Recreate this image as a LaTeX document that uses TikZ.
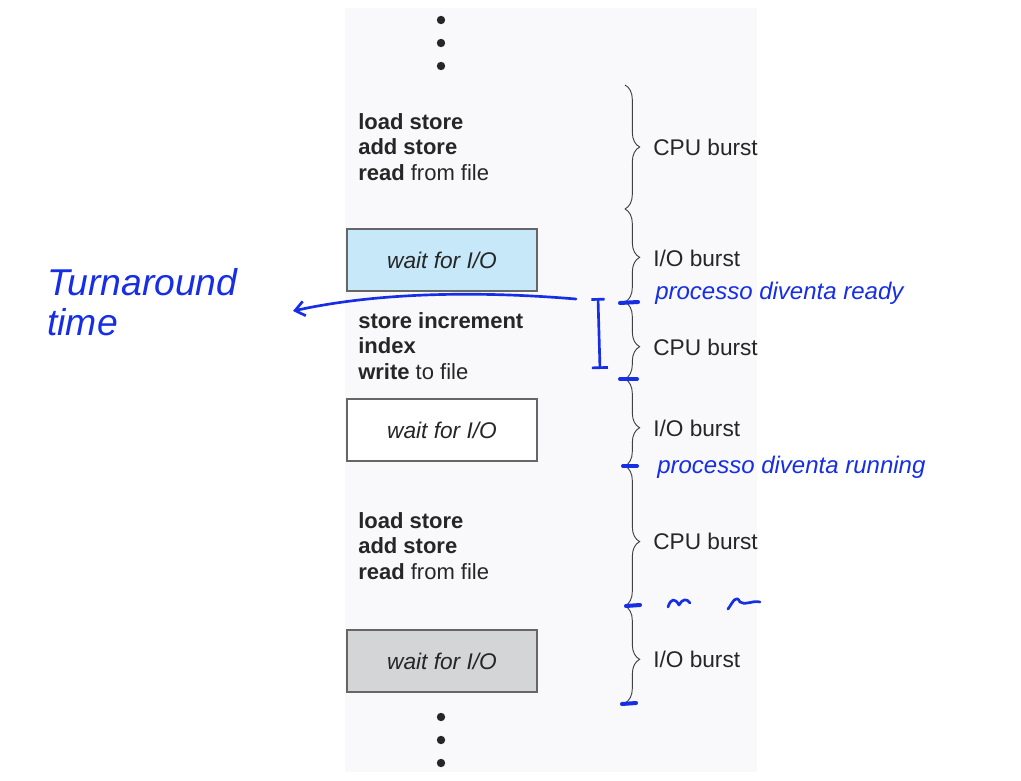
\documentclass[tikz,border=0pt]{standalone}
\usepackage{fontspec}
\setmainfont{Liberation Sans}
\newfontfamily\handfont{Liberation Sans}
\usetikzlibrary{positioning,decorations.pathreplacing,arrows.meta}

\definecolor{panelgray}{RGB}{249,249,251}
\definecolor{iofill}{RGB}{198,232,248}
\definecolor{waitgray}{RGB}{211,213,214}
\definecolor{inkblue}{RGB}{22,46,230}
\definecolor{textgray}{RGB}{38,38,38}

\begin{document}
\begin{tikzpicture}[x=0.75pt,y=-0.75pt]
\tikzset{
    code/.style={anchor=west, align=left, inner sep=0pt, text=textgray, font=\fontsize{16.5}{19}\selectfont},
    waitbox/.style={rectangle, draw=black!60, line width=1.1pt, minimum width=142.5pt, minimum height=46.5pt, text=textgray, font=\fontsize{17}{20}\selectfont\itshape},
    burst/.style={anchor=west, inner sep=0pt, text=textgray, font=\fontsize{17}{20}\selectfont},
    brace/.style={decorate, decoration={brace, amplitude=11pt}, draw=black!75, line width=0.7pt},
    dot/.style={circle, fill=black!85, inner sep=0pt, minimum size=6.3pt},
    ink/.style={draw=inkblue, line width=2pt, line cap=round, line join=round},
    tick/.style={ink, line width=3pt},
    note/.style={anchor=west, inner sep=0pt, text=inkblue, font=\handfont\itshape\fontsize{18}{20}\selectfont}
}
\useasboundingbox (0,0) rectangle (1021,781);

% pannello di sfondo
\fill[panelgray] (345,8) rectangle (757,772);

% puntini
\node[dot] (dt1) at (441,20) {};
\node[dot] (dt2) at (441,43) {};
\node[dot] (dt3) at (441,66) {};
\node[dot] (db1) at (441,717) {};
\node[dot] (db2) at (441,740) {};
\node[dot] (db3) at (441,763) {};

% istruzioni e attese
\node[code] (cpu1) at (358,147) {\textbf{load store}\\\textbf{add store}\\\textbf{read} from file};
\node[waitbox, fill=iofill] (io1) at (442,260) {wait for I/O};
\node[code] (cpu2) at (358,346) {\textbf{store increment}\\\textbf{index}\\\textbf{write} to file};
\node[waitbox, fill=white] (io2) at (442,430) {wait for I/O};
\node[code] (cpu3) at (358,546) {\textbf{load store}\\\textbf{add store}\\\textbf{read} from file};
\node[waitbox, fill=waitgray] (io3) at (442,661) {wait for I/O};

% graffe
\coordinate (j0) at (625,85);
\coordinate (j1) at (625,209);
\coordinate (j2) at (625,302);
\coordinate (j3) at (625,379);
\coordinate (j4) at (625,466);
\coordinate (j5) at (625,606);
\coordinate (j6) at (625,703);
\draw[brace] (j0) -- (j1);
\draw[brace, decoration={aspect=0.52}] (j1) -- (j2);
\draw[brace, decoration={aspect=0.58}] (j2) -- (j3);
\draw[brace, decoration={aspect=0.56}] (j3) -- (j4);
\draw[brace, decoration={aspect=0.54}] (j4) -- (j5);
\draw[brace, decoration={aspect=0.55}] (j5) -- (j6);

\node[burst] (b1) at (653,147) {CPU burst};
\node[burst] (b2) at (653,258) {I/O burst};
\node[burst] (b3) at (653,347) {CPU burst};
\node[burst] (b4) at (653,428) {I/O burst};
\node[burst] (b5) at (653,541) {CPU burst};
\node[burst] (b6) at (653,659) {I/O burst};

% annotazioni a mano
\node[note, align=left, font=\handfont\itshape\fontsize{28}{30}\selectfont] (turn) at (47,302) {Turnaround\\time};
\coordinate (arr0) at (576,299);
\coordinate (arr1) at (293,311);
\draw[ink, -{Straight Barb[length=7pt,width=11pt]}] (arr0) .. controls (480,291) and (380,292) .. (arr1);
\coordinate (bar0) at (598,298);
\coordinate (bar1) at (600,369);
\draw[ink, {Bar[width=10pt]}-{Bar[width=12pt]}] (bar0) -- (bar1);

\draw[tick] (620,303) -- (638,302);
\draw[tick] (620,379) -- (637,379);
\draw[tick] (623,466) -- (637,466);
\draw[tick] (626,606) -- (640,605);
\draw[tick] (622,704) -- (636,703);

\node[note] (ready) at (655,293) {processo diventa ready};
\node[note] (running) at (657,467) {processo diventa running};

\draw[ink] (668,607) .. controls (671,598) and (675,598) .. (679,605) .. controls (682,599) and (687,598) .. (690,603);
\draw[ink] (728,609) .. controls (733,602) and (736,594) .. (740,602) .. controls (745,606) and (752,600) .. (760,602);
\end{tikzpicture}
\end{document}
